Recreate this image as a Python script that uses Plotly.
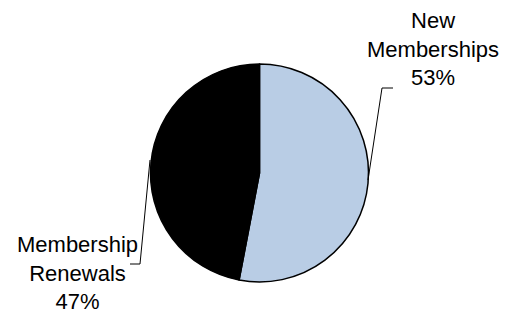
import plotly.graph_objects as go

categories = ["New Memberships", "Membership Renewals"]
values = [53, 47]
label_lines = ["New<br>Memberships<br>53%", "Membership<br>Renewals<br>47%"]
colors = ["#B9CDE5", "#000000"]

W, H = 511, 318

def px(x):
    return x / W

def py(y):
    return (H - y) / H

fig = go.Figure(go.Pie(
    labels=categories, values=values, sort=False, direction="clockwise", rotation=0,
    marker=dict(colors=colors, line=dict(color="#000000", width=1.5)),
    textinfo="none", hoverinfo="label+percent", showlegend=False,
    domain=dict(x=[px(150.5), px(368.5)], y=[py(282), py(64)]),
))

font = dict(family="Liberation Sans, Arial, sans-serif", size=22, color="#000000")
fig.add_annotation(x=px(433), y=py(49), xref="paper", yref="paper", text=label_lines[0],
                   showarrow=False, font=font, align="center", xanchor="center", yanchor="middle")
fig.add_annotation(x=px(77), y=py(273), xref="paper", yref="paper", text=label_lines[1],
                   showarrow=False, font=font, align="center", xanchor="center", yanchor="middle")

def leader(pts):
    d = "M " + " L ".join(f"{px(x)},{py(y)}" for x, y in pts)
    fig.add_shape(type="path", path=d, xref="paper", yref="paper",
                  line=dict(color="#000000", width=1))

leader([(368, 180), (382, 88), (393, 88)])
leader([(150, 160), (140, 264), (130, 264)])

fig.update_layout(width=W, height=H, margin=dict(l=0, r=0, t=0, b=0),
                  paper_bgcolor="#FFFFFF", plot_bgcolor="#FFFFFF")
fig.write_html("out.html", config={"displayModeBar": False},
               post_script="document.body.style.margin='0px';")
